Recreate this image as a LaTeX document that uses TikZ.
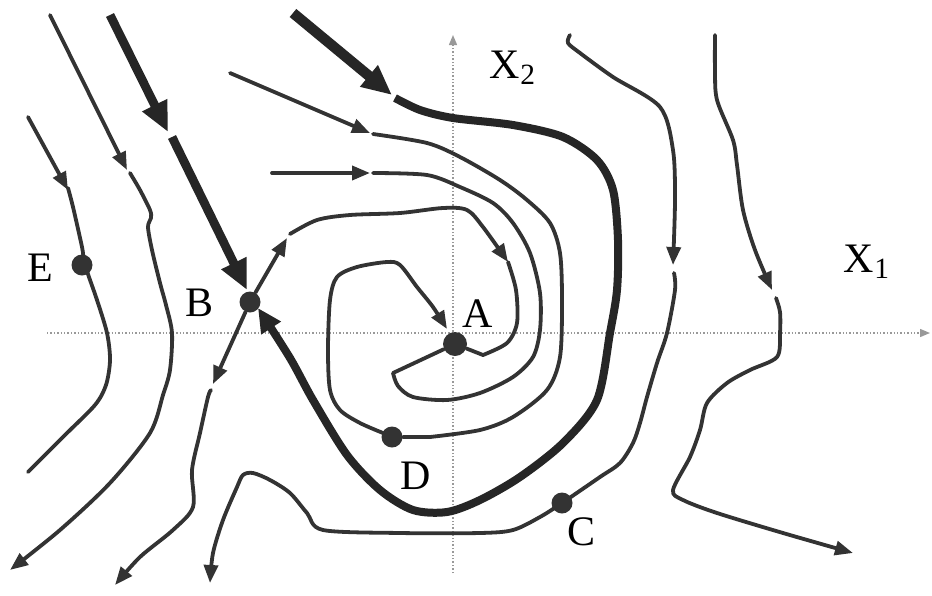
\documentclass[tikz,border=0pt]{standalone}
\usepackage{fontspec}
\setmainfont{Liberation Serif}
\usetikzlibrary{arrows.meta}

\begin{document}
\begin{tikzpicture}[x=0.5pt,y=-0.5pt,
traj/.style={line width=1.9pt,black!80,line cap=round,line join=round},
sep/.style={line width=4pt,black!85,line join=round},
axis/.style={line width=0.7pt,black!40,densely dotted},
arr/.style={-{Triangle[length=9pt,width=7pt]}},
bigarr/.style={-{Triangle[length=15pt,width=13pt]}},
dot/.style={circle,fill=black!80,inner sep=0pt,minimum size=10.5pt},
lbl/.style={font=\fontsize{21}{24}\selectfont,inner sep=0pt}]
\useasboundingbox (0,0) rectangle (932,595);
\draw[axis,-{Triangle[length=5pt,width=4pt]}](47,333)--(930,333);
\draw[axis,-{Triangle[length=5pt,width=4pt]}](453,573)--(453,35);
\node[dot,minimum size=12pt](A) at (455,344){};
\node[dot](B) at (250,302){};
\node[dot](C) at (562,503){};
\node[dot](D) at (392,437){};
\node[dot](E) at (82,265){};
\node[lbl](lA) at (478,314){A};
\node[lbl](lB) at (200,303){B};
\node[lbl](lC) at (582,532){C};
\node[lbl](lD) at (416,476){D};
\node[lbl](lE) at (40,268){E};
\node[lbl](lX2) at (513,68){X\textsubscript{2}};
\node[lbl](lX1) at (867,262){X\textsubscript{1}};
\draw[traj,arr](28,117)--(68,190);
\draw[traj]plot[smooth]coordinates{(68,188)(73,207)(82,247)(85,265)(97,300)(107,333)(110,360)(106,385)(95,405)(65,435)(28,472)};
\draw[traj,arr](50,15)--(127,170);
\draw[traj,arr]plot[smooth]coordinates{(130,173)(140,190)(150,210)(151,218)(148,227)(152,250)(160,283)(166,305)(172,333)(170,370)(163,395)(150,433)(110,483)(60,530)(10,570)};
\draw[sep,line width=4.4pt,bigarr](110,15)--(168,132);
\draw[sep,line width=4.4pt,bigarr](172,137)--(247,290);
\draw[sep,line width=5.2pt,bigarr](293,13)--(392,95);
\draw[sep,-{Triangle[length=12pt,width=11pt]}]plot[smooth]coordinates{(395,98)(420,110)(453,118)(513,125)(563,137)(597,160)(613,190)(618,240)(617,290)(610,333)(597,400)(563,443)(520,477)(480,500)(447,512)(413,510)(380,490)(347,455)(313,400)(290,358)(258,308)};
\draw[traj,arr](B)--(287,238);
\draw[traj,arr]plot[smooth]coordinates{(290,234)(317,220)(350,215)(400,213)(443,208)(467,210)(483,227)(508,262)};
\draw[traj]plot[smooth]coordinates{(508,262)(516,290)(517,323)(507,343)(483,355)}--(A);
\draw[traj,arr](B)--(213,384);
\draw[traj,arr]plot[smooth]coordinates{(211,390)(208,397)(200,433)(192,470)(193,507)(173,530)(140,557)(115,585)};
\draw[traj,arr](230,73)--(370,133);
\draw[traj]plot[smooth]coordinates{(373,134)(427,143)(460,157)(500,180)(527,200)(550,223)(560,253)(562,300)(560,357)(547,390)(513,417)(480,430)(430,437)}--(D);
\draw[traj,arr]plot[smooth]coordinates{(383,433)(360,423)(340,410)(330,390)(328,350)(330,300)(337,277)(357,267)(387,262)(400,265)(417,287)(433,307)(447,329)};
\draw[traj,arr](272,173)--(370,173);
\draw[traj]plot[smooth]coordinates{(373,173)(427,175)(460,187)(493,203)(513,223)(530,253)(540,293)(540,330)(533,357)(513,377)(480,393)(447,400)(413,397)(398,386)(393,373)}--(A);
\draw[traj,arr]plot[smooth]coordinates{(570,35)(568,43)(580,53)(613,77)(660,107)(673,150)(675,200)(673,265)};
\draw[traj,arr]plot[smooth]coordinates{(674,273)(675,290)(667,333)(657,363)(647,397)(640,423)(633,443)(620,463)(600,477)(C)(540,517)(513,530)(480,533)(400,533)(323,530)(307,513)(290,493)(270,480)(253,473)(243,475)(237,487)(223,520)(213,553)(210,583)};
\draw[traj,arr]plot[smooth]coordinates{(715,35)(715,70)(717,100)(733,140)(737,165)(743,210)(755,250)(772,290)};
\draw[traj,arr]plot[smooth]coordinates{(776,298)(780,312)(780,333)(777,357)(750,370)(727,383)(707,403)(700,430)(690,457)(673,490)(683,500)(717,513)(783,533)(853,553)};
\end{tikzpicture}
\end{document}
